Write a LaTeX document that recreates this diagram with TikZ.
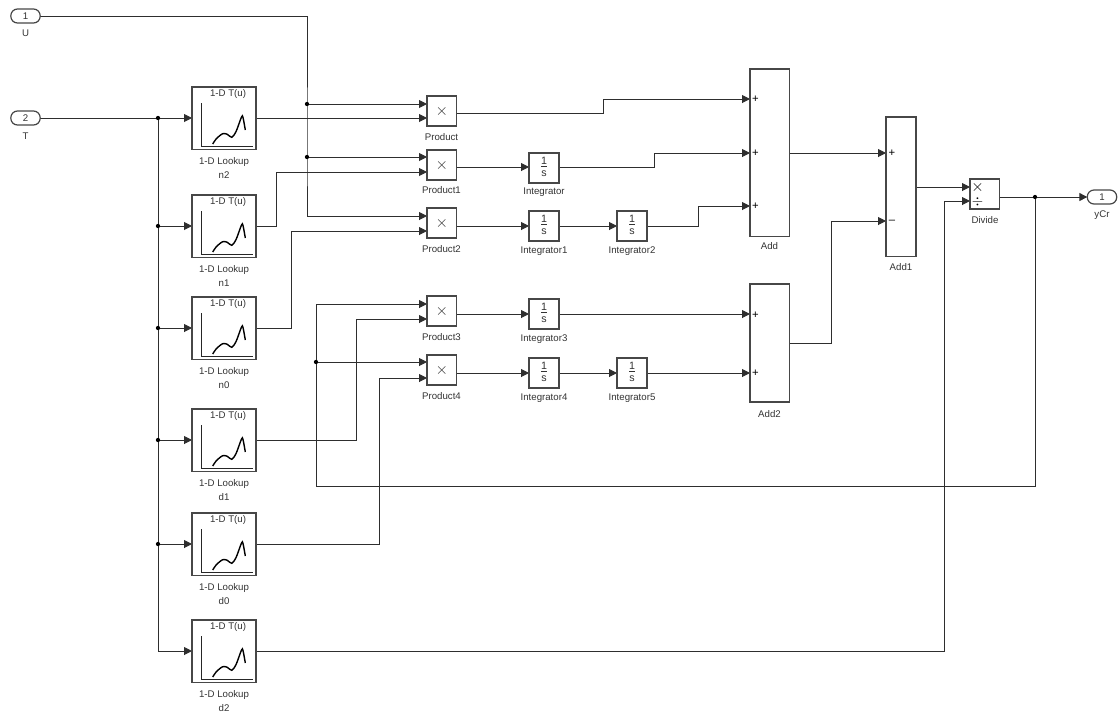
\documentclass[tikz,border=0pt]{standalone}
\usepackage{fontspec}
\setmainfont{Liberation Sans}
\usetikzlibrary{arrows.meta,backgrounds}
\tikzset{
  x=0.75pt,y=-0.75pt,
  every node/.style={font=\fontsize{7.25pt}{8.7pt}\selectfont,text=black!80},
  blockbox/.style={draw=black!72,line width=0.9pt,fill=white,minimum width=#1*0.75pt,inner sep=0pt,outer sep=0pt},
  wire/.style={draw=black!82,line width=0.72pt,-{Triangle[length=6pt,width=6pt]}},
  dotnode/.style={fill=black,circle,inner sep=0pt,minimum size=3.2pt},
  lbl/.style={inner sep=0pt,anchor=center},
  port/.style={draw=black!72,line width=0.9pt,fill=white,rounded corners=5pt,minimum width=22pt,minimum height=10.5pt,inner sep=0pt,outer sep=0pt},
  sgn/.style={inner sep=0pt,text=black,font=\fontsize{8.5pt}{9pt}\selectfont}
}
\newcommand{\lookup}[4]{%
  \node[blockbox=64,minimum height=47pt,anchor=north west] (#1) at (192,#2) {};
  \node[lbl] (#1t) at (228,#2+6.5) {1-D T(u)};
  \draw[line width=0.7pt,black!85] (201,#2+16) -- (201,#2+59) -- (253,#2+59);
  \draw[line width=1.05pt,black] plot[smooth,tension=0.5] coordinates {(212.7,#2+57) (216.7,#2+51.3) (222.7,#2+46.7) (227.3,#2+47.3) (231.7,#2+50.3) (236,#2+44.7) (241.5,#2+30) (243,#2+30.5) (245.3,#2+43)};
  \node[lbl] (#1a) at (224,#2+74.5) {1-D Lookup};
  \node[lbl] (#1b) at (224,#2+88.5) {#3};
}
\newcommand{\prodblk}[4]{%
  \node[blockbox=29.5,minimum height=22.5pt,anchor=north west] (#1) at (427,#2) {\fontsize{12pt}{12pt}\selectfont$\times$};
  \node[lbl] (#1l) at (441.5,#4) {#3};
}
\newcommand{\integ}[5]{%
  \node[blockbox=30,minimum height=22.5pt,anchor=north west] (#1) at (#2,#3) {\fontsize{8pt}{9pt}\selectfont\begin{tabular}{@{}c@{}}1\\[-1.5pt]\hline\noalign{\vskip 0.5pt}s\end{tabular}};
  \node[lbl] (#1l) at (#2+15,#5) {#4};
}
\begin{document}
\begin{tikzpicture}
\useasboundingbox (0,0) rectangle (1120,715);
% ports
\node[port] (U) at (25.5,16) {1};
\node[lbl] (Ul) at (25.5,33) {U};
\node[port] (T) at (25.5,118) {2};
\node[lbl] (Tl) at (25.5,136) {T};
\node[port] (Y) at (1102,197) {1};
\node[lbl] (Yl) at (1102,215) {yCr};
% lookups
\lookup{n2}{87}{n2}{}
\lookup{n1}{195}{n1}{}
\lookup{n0}{297}{n0}{}
\lookup{d1}{409}{d1}{}
\lookup{d0}{513}{d0}{}
\lookup{d2}{620}{d2}{}
% products
\prodblk{P0}{96}{Product}{137}
\prodblk{P1}{150}{Product1}{190.5}
\prodblk{P2}{208}{Product2}{249}
\prodblk{P3}{296}{Product3}{337.5}
\prodblk{P4}{355}{Product4}{396}
% integrators
\integ{I0}{529}{153}{Integrator}{192.5}
\integ{I1}{529}{211}{Integrator1}{251.5}
\integ{I2}{617}{211}{Integrator2}{251.5}
\integ{I3}{529}{299}{Integrator3}{339.5}
\integ{I4}{529}{358}{Integrator4}{398.5}
\integ{I5}{617}{358}{Integrator5}{398.5}
% adders
\node[blockbox=39.5,minimum height=125.5pt,anchor=north west] (A) at (750,69) {};
\node[lbl] (Al) at (769.5,246) {Add};
\node[sgn] (As1) at (755.5,99.5) {+};
\node[sgn] (As2) at (755.5,153.5) {+};
\node[sgn] (As3) at (755.5,206.5) {+};
\node[blockbox=39.5,minimum height=88.5pt,anchor=north west] (B) at (750,284) {};
\node[lbl] (Bl) at (769.5,414) {Add2};
\node[sgn] (Bs1) at (755.5,315) {+};
\node[sgn] (Bs2) at (755.5,373.5) {+};
\node[blockbox=30,minimum height=104.5pt,anchor=north west] (C) at (886,117) {};
\node[lbl] (Cl) at (901,267) {Add1};
\node[sgn] (Cs1) at (892,153.5) {+};
\node[sgn] (Cs2) at (892,221.5) {--};
\node[blockbox=29.5,minimum height=22.5pt,anchor=north west] (D) at (970,179) {};
\node[sgn] (Ds1) at (977.5,187) {\fontsize{12pt}{12pt}\selectfont$\times$};
\node[sgn] (Ds2) at (977.5,202) {\fontsize{11pt}{11pt}\selectfont$\div$};
\node[lbl] (Dl) at (985,220.5) {Divide};
% junctions
\node[dotnode] (j1) at (307,104) {};
\node[dotnode] (j2) at (307,157) {};
\node[dotnode] (j3) at (158,118) {};
\node[dotnode] (j4) at (158,226) {};
\node[dotnode] (j5) at (158,328) {};
\node[dotnode] (j6) at (158,440) {};
\node[dotnode] (j7) at (158,544) {};
\node[dotnode] (j8) at (1035,197) {};
\node[dotnode] (j9) at (316,362) {};
\begin{scope}[on background layer]
% U wires
\draw[wire] (U.east) -| (j2.center) |- (P2.west |- 0,216);
\draw[wire] (j1.center) -- (P0.west |- j1);
\draw[wire] (j2.center) -- (P1.west |- j2);
% T wires
\draw[wire] (T.east) -- (n2.west |- T);
\draw[wire] (j3.center) |- (d2.west |- 0,651);
\draw[wire] (j4.center) -- (n1.west |- j4);
\draw[wire] (j5.center) -- (n0.west |- j5);
\draw[wire] (j6.center) -- (d1.west |- j6);
\draw[wire] (j7.center) -- (d0.west |- j7);
% lookup outs
\draw[wire] (n2.east |- 0,118) -- (P0.west |- 0,118);
\draw[wire] (n1.east |- 0,226) -- (276,226) |- (P1.west |- 0,172);
\draw[wire] (n0.east |- 0,328) -- (291,328) |- (P2.west |- 0,231);
\draw[wire] (d1.east |- 0,440) -- (356,440) |- (P3.west |- 0,319);
\draw[wire] (d0.east |- 0,544) -- (379,544) |- (P4.west |- 0,378);
\draw[wire] (d2.east |- 0,651) -- (944,651) |- (D.west |- 0,201);
% products to integrators
\draw[wire] (P0.east |- 0,113) -- (603,113) |- (A.west |- 0,99);
\draw[wire] (P1.east |- 0,167) -- (I0.west |- 0,167);
\draw[wire] (P2.east |- 0,226) -- (I1.west |- 0,226);
\draw[wire] (I1.east |- 0,226) -- (I2.west |- 0,226);
\draw[wire] (P3.east |- 0,314) -- (I3.west |- 0,314);
\draw[wire] (P4.east |- 0,373) -- (I4.west |- 0,373);
\draw[wire] (I4.east |- 0,373) -- (I5.west |- 0,373);
% integrators to adders
\draw[wire] (I0.east |- 0,167) -- (654,167) |- (A.west |- 0,153);
\draw[wire] (I2.east |- 0,226) -- (698,226) |- (A.west |- 0,206);
\draw[wire] (I3.east |- 0,314) -- (B.west |- 0,314);
\draw[wire] (I5.east |- 0,373) -- (B.west |- 0,373);
% adders
\draw[wire] (A.east |- 0,153) -- (C.west |- 0,153);
\draw[wire] (B.east |- 0,343) -- (831,343) |- (C.west |- 0,221);
\draw[wire] (C.east |- 0,187) -- (D.west |- 0,187);
% output + feedback
\draw[wire] (D.east |- 0,197) -- (Y.west |- 0,197);
\draw[wire] (j8.center) -- (1035,486) -- (316,486) |- (P3.west |- 0,304);
\draw[wire] (j9.center) -- (P4.west |- j9);
\end{scope}
\end{tikzpicture}
\end{document}
